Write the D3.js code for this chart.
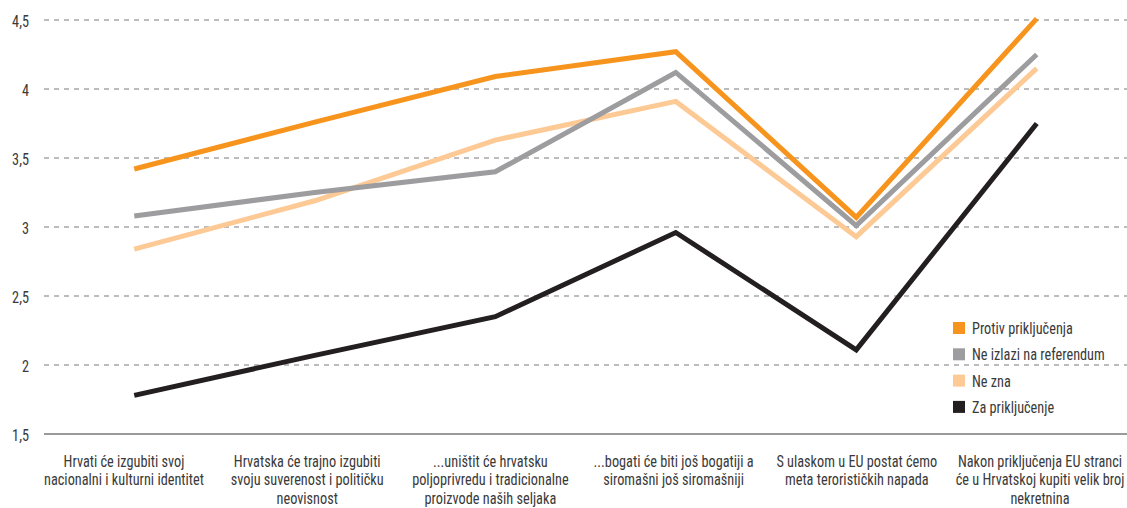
<!DOCTYPE html>
<html><head><meta charset="utf-8">
<script src="https://cdn.jsdelivr.net/npm/d3@7"></script>
<style>
body{margin:0;background:#fff;}
text{font-family:"Liberation Sans Narrow","Roboto Condensed",Roboto,sans-serif;fill:#3a3a3a;}
</style></head>
<body><svg id="c" width="1127" height="508"></svg>
<script>
const categories = [
  ["Hrvati će izgubiti svoj","nacionalni i kulturni identitet"],
  ["Hrvatska će trajno izgubiti","svoju suverenost i političku","neovisnost"],
  ["...uništit će hrvatsku","poljoprivredu i tradicionalne","proizvode naših seljaka"],
  ["...bogati će biti još bogatiji a","siromašni još siromašniji"],
  ["S ulaskom u EU postat ćemo","meta terorističkih napada"],
  ["Nakon priključenja EU stranci","će u Hrvatskoj kupiti velik broj","nekretnina"]
];
const protiv   = [3.42, 3.76, 4.09, 4.27, 3.07, 4.51];
const neIzlazi = [3.08, 3.25, 3.40, 4.12, 3.01, 4.25];
const neZna    = [2.84, 3.19, 3.63, 3.91, 2.93, 4.15];
const za       = [1.78, 2.07, 2.35, 2.96, 2.11, 3.75];
const seriesNames = ["Protiv priključenja","Ne izlazi na referendum","Ne zna","Za priključenje"];
const seriesColors = ["#F7941D","#9D9C9E","#FDC995","#231F20"];
const yTicks = [1.5, 2, 2.5, 3, 3.5, 4, 4.5];

const SX = 0.84, FS = 17;
const LFS = 16, LSX = 0.8925;
const svg = d3.select("#c");
const mLeft = 44, mRight = 1127, mTop = 20, mBottom = 434;
const x = d3.scaleBand().domain(d3.range(categories.length)).range([mLeft, mRight]);
const xLab = d3.scalePoint().domain(d3.range(categories.length)).range([124, 1040]);
const y = d3.scaleLinear().domain([1.5, 4.5]).range([mBottom, mTop]);
const fmt = v => String(v).replace(".", ",");

// y axis labels
const yAxis = d3.axisLeft(y).tickValues(yTicks).tickSize(0).tickPadding(0).tickFormat(fmt);
const gy = svg.append("g").attr("transform", `translate(29,0)`).call(yAxis);
gy.select(".domain").remove();
gy.selectAll("text").attr("font-size", FS).attr("fill", "#3a3a3a")
  .attr("x", 0).attr("dy", "0.36em")
  .attr("transform", `scale(${SX},1)`)
  .style("font-family", '"Liberation Sans Narrow","Roboto Condensed",Roboto,sans-serif');

// gridlines
svg.append("g").selectAll("line").data(yTicks.filter(t => t > 1.5)).join("line")
  .attr("x1", mLeft).attr("x2", mRight)
  .attr("y1", d => y(d)).attr("y2", d => y(d))
  .attr("stroke", "#a7a7a7").attr("stroke-width", 1.3).attr("stroke-dasharray", "5,5");
svg.append("line").attr("x1", mLeft).attr("x2", mRight)
  .attr("y1", y(1.5)).attr("y2", y(1.5))
  .attr("stroke", "#9a9a9a").attr("stroke-width", 2);

// x labels
const xl = svg.append("g").selectAll("text").data(categories).join("text")
  .attr("text-anchor", "middle").attr("font-size", LFS)
  .attr("transform", (d, i) => `translate(${xLab(i)},466.5) scale(${LSX},1)`);
xl.selectAll("tspan").data(d => d).join("tspan")
  .attr("x", 0).attr("dy", (d, i) => i === 0 ? 0 : 18.8).text(d => d);

// lines
const data = [protiv, neIzlazi, neZna, za];
const line = d3.line().x((d, i) => x(i) + x.bandwidth() / 2).y(d => y(d));
const order = [3, 2, 1, 0];
svg.append("g").selectAll("path").data(order).join("path")
  .attr("d", k => line(data[k])).attr("fill", "none")
  .attr("stroke", k => seriesColors[k]).attr("stroke-width", 5)
  .attr("stroke-linejoin", "miter");

// legend
const lg = svg.append("g").selectAll("g").data(seriesNames).join("g")
  .attr("transform", (d, i) => `translate(953,${328 + i * 26.3})`);
lg.append("rect").attr("x", 0).attr("y", -6).attr("width", 12).attr("height", 12)
  .attr("fill", (d, i) => seriesColors[i]);
lg.append("text").attr("transform", `translate(19,6) scale(${SX},1)`)
  .attr("font-size", FS).text(d => d);
</script></body></html>
